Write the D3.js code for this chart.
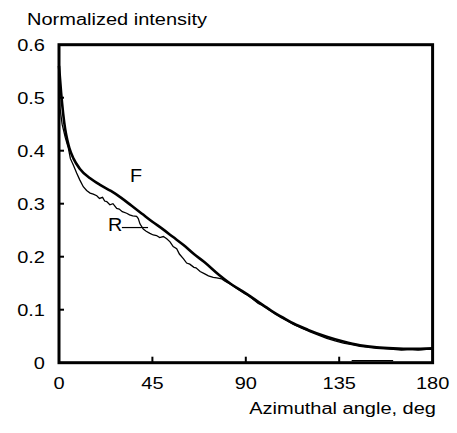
<!DOCTYPE html>
<html>
<head>
<meta charset="utf-8">
<script src="https://cdn.jsdelivr.net/npm/d3@7"></script>
<style>
  body { margin: 0; background: #fff; }
  text { font-family: Arial, "Liberation Sans", sans-serif; fill: #000; }
</style>
</head>
<body>
<div id="chart"></div>
<script>
// F curve (smooth, thick)
const fAngle = [0, 1, 2, 3, 4, 5, 7, 10, 15, 20, 25, 30, 35, 40, 45, 50, 55, 60, 65, 70, 77, 83, 90, 97, 102, 108, 113, 120, 129, 137, 145, 153, 161, 170, 180];
const fValue = [0.56, 0.51, 0.47, 0.44, 0.42, 0.405, 0.385, 0.366, 0.348, 0.335, 0.324, 0.311, 0.296, 0.281, 0.266, 0.252, 0.237, 0.222, 0.205, 0.19, 0.166, 0.148, 0.131, 0.112, 0.099, 0.085, 0.074, 0.062, 0.049, 0.04, 0.033, 0.029, 0.027, 0.026, 0.027];

// R curve (measured, noisy, thin)
const rAngle = [0, 0.5, 1.5, 3, 4.5, 5.5, 7, 8.5, 10, 11.7, 13.3, 15, 16.5, 18.2, 19.5, 21, 22, 23, 24.5, 26, 27.8, 29, 30.5, 32.6, 34, 35.5, 37.4, 38.2, 39, 40.6, 42, 43.8, 45.4, 47, 48.5, 50.3, 51.9, 53.5, 55, 56.7, 58, 60, 61.5, 63, 65, 66, 68, 70, 72, 74.3, 76, 78.4, 80, 83, 86, 90, 93, 96, 98, 101, 104, 107, 110, 113, 117, 121, 125, 129, 133, 137, 141, 145, 149, 153, 157, 161, 165, 169, 173, 177, 180];
const rValue = [0.53, 0.48, 0.45, 0.425, 0.405, 0.385, 0.372, 0.358, 0.345, 0.332, 0.325, 0.32, 0.318, 0.315, 0.31, 0.312, 0.305, 0.304, 0.298, 0.3, 0.291, 0.29, 0.285, 0.282, 0.279, 0.277, 0.276, 0.272, 0.262, 0.252, 0.248, 0.244, 0.241, 0.24, 0.236, 0.238, 0.234, 0.228, 0.219, 0.215, 0.205, 0.196, 0.188, 0.186, 0.18, 0.179, 0.172, 0.168, 0.164, 0.161, 0.16, 0.158, 0.154, 0.147, 0.139, 0.129, 0.121, 0.112, 0.108, 0.1, 0.092, 0.085, 0.079, 0.072, 0.065, 0.058, 0.052, 0.046, 0.041, 0.037, 0.034, 0.031, 0.029, 0.027, 0.026, 0.025, 0.024, 0.025, 0.024, 0.025, 0.025];

// short trace near the baseline
const traceAngle = [141, 161];
const traceValue = [0.004, 0.004];

const xTicks = [0, 45, 90, 135, 180];
const yTicks = [0, 0.1, 0.2, 0.3, 0.4, 0.5, 0.6];

const width = 457, height = 433;
const margin = {top: 44.7, right: 24.4, bottom: 70.3, left: 59};
const stretch = 1.25; // the original lettering is wide

const svg = d3.select("#chart").append("svg")
    .attr("width", width)
    .attr("height", height);

const x = d3.scaleLinear().domain([0, 180]).range([margin.left, width - margin.right]);
const y = d3.scaleLinear().domain([0, 0.6]).range([height - margin.bottom, margin.top]);

function label(px, py, str, anchor, size, sx) {
    svg.append("text")
        .attr("transform", `translate(${px},${py}) scale(${sx},1)`)
        .attr("text-anchor", anchor)
        .style("font-size", size + "px")
        .text(str);
}

// curves
const fLine = d3.line().x(d => x(d[0])).y(d => y(d[1])).curve(d3.curveMonotoneX);
const rLine = d3.line().x(d => x(d[0])).y(d => y(d[1]));

svg.append("path")
    .datum(rAngle.map((a, i) => [a, rValue[i]]))
    .attr("d", rLine)
    .attr("fill", "none")
    .attr("stroke", "#000")
    .attr("stroke-width", 1.3);

svg.append("path")
    .datum(fAngle.map((a, i) => [a, fValue[i]]))
    .attr("d", fLine)
    .attr("fill", "none")
    .attr("stroke", "#000")
    .attr("stroke-width", 2.6);

svg.append("path")
    .datum(traceAngle.map((a, i) => [a, traceValue[i]]))
    .attr("d", rLine)
    .attr("fill", "none")
    .attr("stroke", "#000")
    .attr("stroke-width", 1.2);

// ticks inside the frame
svg.selectAll(".yt")
    .data(yTicks.slice(1, -1))
    .enter().append("line")
    .attr("x1", x(0)).attr("x2", x(0) + 5)
    .attr("y1", d => y(d)).attr("y2", d => y(d))
    .attr("stroke", "#000").attr("stroke-width", 2);

svg.selectAll(".xt")
    .data(xTicks.slice(1, -1))
    .enter().append("line")
    .attr("x1", d => x(d)).attr("x2", d => x(d))
    .attr("y1", y(0)).attr("y2", y(0) - 6)
    .attr("stroke", "#000").attr("stroke-width", 2);

// frame
svg.append("rect")
    .attr("x", x(0)).attr("y", y(0.6))
    .attr("width", x(180) - x(0)).attr("height", y(0) - y(0.6))
    .attr("fill", "none")
    .attr("stroke", "#000")
    .attr("stroke-width", 3);

// tick labels
yTicks.forEach(t => label(x(0) - 14, y(t) + 6, t === 0 ? "0" : t.toFixed(1), "end", 16, stretch));
xTicks.forEach(t => label(x(t), y(0) + 26, String(t), "middle", 16, stretch));

// axis titles
label(27, 25, "Normalized intensity", "start", 16, stretch);
label(436, 414, "Azimuthal angle, deg", "end", 16, stretch);

// curve labels
label(x(34.2), y(0.341), "F", "start", 18, 1.1);
label(x(23.6), y(0.248), "R", "start", 18, 1.1);
svg.append("line")
    .attr("x1", x(30.3)).attr("x2", x(42.9))
    .attr("y1", y(0.255)).attr("y2", y(0.255))
    .attr("stroke", "#000").attr("stroke-width", 1.2);
</script>
</body>
</html>
